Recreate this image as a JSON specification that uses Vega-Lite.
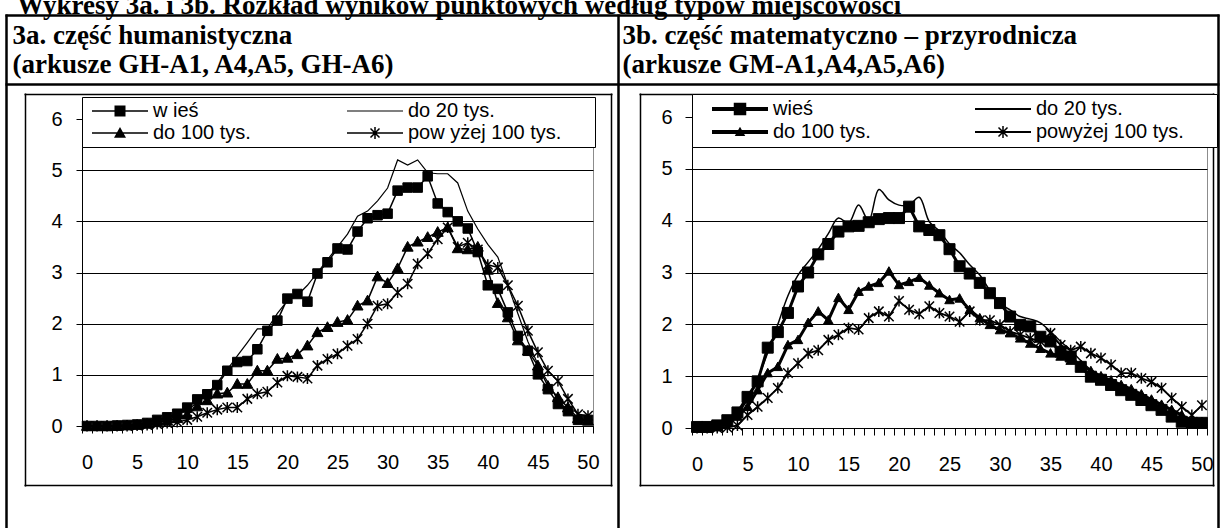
{
  "$schema": "https://vega.github.io/schema/vega-lite/v6.json",
  "width": 1223,
  "height": 528,
  "autosize": {"type": "none"},
  "padding": 0,
  "background": "white",
  "title": {
    "text": "Wykresy 3a. i 3b. Rozkład wyników punktowych według typów miejscowości",
    "anchor": "start",
    "frame": "group",
    "orient": "top",
    "offset": -20,
    "dx": 17,
    "baseline": "top",
    "font": "Liberation Serif",
    "fontSize": 27,
    "fontWeight": "bold",
    "color": "black"
  },
  "datasets": {
    "wyniki_3a": [
      {"typ":"wieś","punkty":0,"odsetek":0},{"typ":"wieś","punkty":1,"odsetek":0},{"typ":"wieś","punkty":2,"odsetek":0},{"typ":"wieś","punkty":3,"odsetek":0.01},{"typ":"wieś","punkty":4,"odsetek":0.02},{"typ":"wieś","punkty":5,"odsetek":0.03},{"typ":"wieś","punkty":6,"odsetek":0.06},{"typ":"wieś","punkty":7,"odsetek":0.12},{"typ":"wieś","punkty":8,"odsetek":0.17},{"typ":"wieś","punkty":9,"odsetek":0.24},{"typ":"wieś","punkty":10,"odsetek":0.36},{"typ":"wieś","punkty":11,"odsetek":0.52},{"typ":"wieś","punkty":12,"odsetek":0.62},{"typ":"wieś","punkty":13,"odsetek":0.8},{"typ":"wieś","punkty":14,"odsetek":1.08},{"typ":"wieś","punkty":15,"odsetek":1.25},{"typ":"wieś","punkty":16,"odsetek":1.27},{"typ":"wieś","punkty":17,"odsetek":1.5},{"typ":"wieś","punkty":18,"odsetek":1.86},{"typ":"wieś","punkty":19,"odsetek":2.06},{"typ":"wieś","punkty":20,"odsetek":2.49},{"typ":"wieś","punkty":21,"odsetek":2.58},{"typ":"wieś","punkty":22,"odsetek":2.43},{"typ":"wieś","punkty":23,"odsetek":2.98},{"typ":"wieś","punkty":24,"odsetek":3.2},{"typ":"wieś","punkty":25,"odsetek":3.47},{"typ":"wieś","punkty":26,"odsetek":3.45},{"typ":"wieś","punkty":27,"odsetek":3.8},{"typ":"wieś","punkty":28,"odsetek":4.06},{"typ":"wieś","punkty":29,"odsetek":4.12},{"typ":"wieś","punkty":30,"odsetek":4.15},{"typ":"wieś","punkty":31,"odsetek":4.6},{"typ":"wieś","punkty":32,"odsetek":4.66},{"typ":"wieś","punkty":33,"odsetek":4.66},{"typ":"wieś","punkty":34,"odsetek":4.88},{"typ":"wieś","punkty":35,"odsetek":4.35},{"typ":"wieś","punkty":36,"odsetek":4.18},{"typ":"wieś","punkty":37,"odsetek":4.0},{"typ":"wieś","punkty":38,"odsetek":3.86},{"typ":"wieś","punkty":39,"odsetek":3.4},{"typ":"wieś","punkty":40,"odsetek":2.75},{"typ":"wieś","punkty":41,"odsetek":2.68},{"typ":"wieś","punkty":42,"odsetek":2.22},{"typ":"wieś","punkty":43,"odsetek":1.76},{"typ":"wieś","punkty":44,"odsetek":1.47},{"typ":"wieś","punkty":45,"odsetek":1.01},{"typ":"wieś","punkty":46,"odsetek":0.72},{"typ":"wieś","punkty":47,"odsetek":0.43},{"typ":"wieś","punkty":48,"odsetek":0.29},{"typ":"wieś","punkty":49,"odsetek":0.12},{"typ":"wieś","punkty":50,"odsetek":0.12},
      {"typ":"do 20 tys.","punkty":0,"odsetek":0},{"typ":"do 20 tys.","punkty":1,"odsetek":0},{"typ":"do 20 tys.","punkty":2,"odsetek":0},{"typ":"do 20 tys.","punkty":3,"odsetek":0.01},{"typ":"do 20 tys.","punkty":4,"odsetek":0.02},{"typ":"do 20 tys.","punkty":5,"odsetek":0.04},{"typ":"do 20 tys.","punkty":6,"odsetek":0.07},{"typ":"do 20 tys.","punkty":7,"odsetek":0.11},{"typ":"do 20 tys.","punkty":8,"odsetek":0.16},{"typ":"do 20 tys.","punkty":9,"odsetek":0.22},{"typ":"do 20 tys.","punkty":10,"odsetek":0.32},{"typ":"do 20 tys.","punkty":11,"odsetek":0.45},{"typ":"do 20 tys.","punkty":12,"odsetek":0.62},{"typ":"do 20 tys.","punkty":13,"odsetek":0.85},{"typ":"do 20 tys.","punkty":14,"odsetek":1.1},{"typ":"do 20 tys.","punkty":15,"odsetek":1.37},{"typ":"do 20 tys.","punkty":16,"odsetek":1.63},{"typ":"do 20 tys.","punkty":17,"odsetek":1.9},{"typ":"do 20 tys.","punkty":18,"odsetek":1.9},{"typ":"do 20 tys.","punkty":19,"odsetek":2.2},{"typ":"do 20 tys.","punkty":20,"odsetek":2.45},{"typ":"do 20 tys.","punkty":21,"odsetek":2.55},{"typ":"do 20 tys.","punkty":22,"odsetek":2.75},{"typ":"do 20 tys.","punkty":23,"odsetek":3.0},{"typ":"do 20 tys.","punkty":24,"odsetek":3.25},{"typ":"do 20 tys.","punkty":25,"odsetek":3.5},{"typ":"do 20 tys.","punkty":26,"odsetek":3.75},{"typ":"do 20 tys.","punkty":27,"odsetek":4.1},{"typ":"do 20 tys.","punkty":28,"odsetek":4.2},{"typ":"do 20 tys.","punkty":29,"odsetek":4.4},{"typ":"do 20 tys.","punkty":30,"odsetek":4.65},{"typ":"do 20 tys.","punkty":31,"odsetek":5.2},{"typ":"do 20 tys.","punkty":32,"odsetek":5.1},{"typ":"do 20 tys.","punkty":33,"odsetek":5.2},{"typ":"do 20 tys.","punkty":34,"odsetek":4.95},{"typ":"do 20 tys.","punkty":35,"odsetek":4.93},{"typ":"do 20 tys.","punkty":36,"odsetek":4.93},{"typ":"do 20 tys.","punkty":37,"odsetek":4.75},{"typ":"do 20 tys.","punkty":38,"odsetek":4.2},{"typ":"do 20 tys.","punkty":39,"odsetek":3.85},{"typ":"do 20 tys.","punkty":40,"odsetek":3.55},{"typ":"do 20 tys.","punkty":41,"odsetek":3.3},{"typ":"do 20 tys.","punkty":42,"odsetek":2.75},{"typ":"do 20 tys.","punkty":43,"odsetek":2.2},{"typ":"do 20 tys.","punkty":44,"odsetek":1.65},{"typ":"do 20 tys.","punkty":45,"odsetek":1.2},{"typ":"do 20 tys.","punkty":46,"odsetek":0.85},{"typ":"do 20 tys.","punkty":47,"odsetek":0.5},{"typ":"do 20 tys.","punkty":48,"odsetek":0.3},{"typ":"do 20 tys.","punkty":49,"odsetek":0.12},{"typ":"do 20 tys.","punkty":50,"odsetek":0.1},
      {"typ":"do 100 tys.","punkty":0,"odsetek":0},{"typ":"do 100 tys.","punkty":1,"odsetek":0},{"typ":"do 100 tys.","punkty":2,"odsetek":0},{"typ":"do 100 tys.","punkty":3,"odsetek":0},{"typ":"do 100 tys.","punkty":4,"odsetek":0.01},{"typ":"do 100 tys.","punkty":5,"odsetek":0.02},{"typ":"do 100 tys.","punkty":6,"odsetek":0.04},{"typ":"do 100 tys.","punkty":7,"odsetek":0.07},{"typ":"do 100 tys.","punkty":8,"odsetek":0.1},{"typ":"do 100 tys.","punkty":9,"odsetek":0.15},{"typ":"do 100 tys.","punkty":10,"odsetek":0.22},{"typ":"do 100 tys.","punkty":11,"odsetek":0.38},{"typ":"do 100 tys.","punkty":12,"odsetek":0.5},{"typ":"do 100 tys.","punkty":13,"odsetek":0.63},{"typ":"do 100 tys.","punkty":14,"odsetek":0.65},{"typ":"do 100 tys.","punkty":15,"odsetek":0.82},{"typ":"do 100 tys.","punkty":16,"odsetek":0.82},{"typ":"do 100 tys.","punkty":17,"odsetek":1.08},{"typ":"do 100 tys.","punkty":18,"odsetek":1.08},{"typ":"do 100 tys.","punkty":19,"odsetek":1.31},{"typ":"do 100 tys.","punkty":20,"odsetek":1.33},{"typ":"do 100 tys.","punkty":21,"odsetek":1.4},{"typ":"do 100 tys.","punkty":22,"odsetek":1.57},{"typ":"do 100 tys.","punkty":23,"odsetek":1.83},{"typ":"do 100 tys.","punkty":24,"odsetek":1.93},{"typ":"do 100 tys.","punkty":25,"odsetek":2.03},{"typ":"do 100 tys.","punkty":26,"odsetek":2.07},{"typ":"do 100 tys.","punkty":27,"odsetek":2.35},{"typ":"do 100 tys.","punkty":28,"odsetek":2.45},{"typ":"do 100 tys.","punkty":29,"odsetek":2.92},{"typ":"do 100 tys.","punkty":30,"odsetek":2.79},{"typ":"do 100 tys.","punkty":31,"odsetek":3.08},{"typ":"do 100 tys.","punkty":32,"odsetek":3.5},{"typ":"do 100 tys.","punkty":33,"odsetek":3.6},{"typ":"do 100 tys.","punkty":34,"odsetek":3.69},{"typ":"do 100 tys.","punkty":35,"odsetek":3.79},{"typ":"do 100 tys.","punkty":36,"odsetek":3.88},{"typ":"do 100 tys.","punkty":37,"odsetek":3.47},{"typ":"do 100 tys.","punkty":38,"odsetek":3.45},{"typ":"do 100 tys.","punkty":39,"odsetek":3.5},{"typ":"do 100 tys.","punkty":40,"odsetek":3.05},{"typ":"do 100 tys.","punkty":41,"odsetek":2.4},{"typ":"do 100 tys.","punkty":42,"odsetek":2.12},{"typ":"do 100 tys.","punkty":43,"odsetek":1.67},{"typ":"do 100 tys.","punkty":44,"odsetek":1.47},{"typ":"do 100 tys.","punkty":45,"odsetek":1.18},{"typ":"do 100 tys.","punkty":46,"odsetek":0.78},{"typ":"do 100 tys.","punkty":47,"odsetek":0.56},{"typ":"do 100 tys.","punkty":48,"odsetek":0.36},{"typ":"do 100 tys.","punkty":49,"odsetek":0.15},{"typ":"do 100 tys.","punkty":50,"odsetek":0.1},
      {"typ":"powyżej 100 tys.","punkty":0,"odsetek":0},{"typ":"powyżej 100 tys.","punkty":1,"odsetek":0},{"typ":"powyżej 100 tys.","punkty":2,"odsetek":0},{"typ":"powyżej 100 tys.","punkty":3,"odsetek":0},{"typ":"powyżej 100 tys.","punkty":4,"odsetek":0},{"typ":"powyżej 100 tys.","punkty":5,"odsetek":0.01},{"typ":"powyżej 100 tys.","punkty":6,"odsetek":0.02},{"typ":"powyżej 100 tys.","punkty":7,"odsetek":0.04},{"typ":"powyżej 100 tys.","punkty":8,"odsetek":0.06},{"typ":"powyżej 100 tys.","punkty":9,"odsetek":0.08},{"typ":"powyżej 100 tys.","punkty":10,"odsetek":0.12},{"typ":"powyżej 100 tys.","punkty":11,"odsetek":0.18},{"typ":"powyżej 100 tys.","punkty":12,"odsetek":0.26},{"typ":"powyżej 100 tys.","punkty":13,"odsetek":0.32},{"typ":"powyżej 100 tys.","punkty":14,"odsetek":0.36},{"typ":"powyżej 100 tys.","punkty":15,"odsetek":0.36},{"typ":"powyżej 100 tys.","punkty":16,"odsetek":0.53},{"typ":"powyżej 100 tys.","punkty":17,"odsetek":0.63},{"typ":"powyżej 100 tys.","punkty":18,"odsetek":0.67},{"typ":"powyżej 100 tys.","punkty":19,"odsetek":0.85},{"typ":"powyżej 100 tys.","punkty":20,"odsetek":0.98},{"typ":"powyżej 100 tys.","punkty":21,"odsetek":0.96},{"typ":"powyżej 100 tys.","punkty":22,"odsetek":0.93},{"typ":"powyżej 100 tys.","punkty":23,"odsetek":1.18},{"typ":"powyżej 100 tys.","punkty":24,"odsetek":1.31},{"typ":"powyżej 100 tys.","punkty":25,"odsetek":1.41},{"typ":"powyżej 100 tys.","punkty":26,"odsetek":1.57},{"typ":"powyżej 100 tys.","punkty":27,"odsetek":1.7},{"typ":"powyżej 100 tys.","punkty":28,"odsetek":2.0},{"typ":"powyżej 100 tys.","punkty":29,"odsetek":2.35},{"typ":"powyżej 100 tys.","punkty":30,"odsetek":2.39},{"typ":"powyżej 100 tys.","punkty":31,"odsetek":2.61},{"typ":"powyżej 100 tys.","punkty":32,"odsetek":2.78},{"typ":"powyżej 100 tys.","punkty":33,"odsetek":3.17},{"typ":"powyżej 100 tys.","punkty":34,"odsetek":3.37},{"typ":"powyżej 100 tys.","punkty":35,"odsetek":3.65},{"typ":"powyżej 100 tys.","punkty":36,"odsetek":3.88},{"typ":"powyżej 100 tys.","punkty":37,"odsetek":3.5},{"typ":"powyżej 100 tys.","punkty":38,"odsetek":3.58},{"typ":"powyżej 100 tys.","punkty":39,"odsetek":3.45},{"typ":"powyżej 100 tys.","punkty":40,"odsetek":3.15},{"typ":"powyżej 100 tys.","punkty":41,"odsetek":3.1},{"typ":"powyżej 100 tys.","punkty":42,"odsetek":2.75},{"typ":"powyżej 100 tys.","punkty":43,"odsetek":2.35},{"typ":"powyżej 100 tys.","punkty":44,"odsetek":1.86},{"typ":"powyżej 100 tys.","punkty":45,"odsetek":1.44},{"typ":"powyżej 100 tys.","punkty":46,"odsetek":1.08},{"typ":"powyżej 100 tys.","punkty":47,"odsetek":0.88},{"typ":"powyżej 100 tys.","punkty":48,"odsetek":0.53},{"typ":"powyżej 100 tys.","punkty":49,"odsetek":0.23},{"typ":"powyżej 100 tys.","punkty":50,"odsetek":0.2}
    ],
    "wyniki_3b": [
      {"typ":"wieś","punkty":0,"odsetek":0.02},{"typ":"wieś","punkty":1,"odsetek":0.02},{"typ":"wieś","punkty":2,"odsetek":0.05},{"typ":"wieś","punkty":3,"odsetek":0.15},{"typ":"wieś","punkty":4,"odsetek":0.3},{"typ":"wieś","punkty":5,"odsetek":0.6},{"typ":"wieś","punkty":6,"odsetek":0.9},{"typ":"wieś","punkty":7,"odsetek":1.55},{"typ":"wieś","punkty":8,"odsetek":1.85},{"typ":"wieś","punkty":9,"odsetek":2.22},{"typ":"wieś","punkty":10,"odsetek":2.73},{"typ":"wieś","punkty":11,"odsetek":3.0},{"typ":"wieś","punkty":12,"odsetek":3.35},{"typ":"wieś","punkty":13,"odsetek":3.55},{"typ":"wieś","punkty":14,"odsetek":3.79},{"typ":"wieś","punkty":15,"odsetek":3.89},{"typ":"wieś","punkty":16,"odsetek":3.9},{"typ":"wieś","punkty":17,"odsetek":3.97},{"typ":"wieś","punkty":18,"odsetek":4.03},{"typ":"wieś","punkty":19,"odsetek":4.05},{"typ":"wieś","punkty":20,"odsetek":4.05},{"typ":"wieś","punkty":21,"odsetek":4.27},{"typ":"wieś","punkty":22,"odsetek":3.89},{"typ":"wieś","punkty":23,"odsetek":3.82},{"typ":"wieś","punkty":24,"odsetek":3.72},{"typ":"wieś","punkty":25,"odsetek":3.45},{"typ":"wieś","punkty":26,"odsetek":3.12},{"typ":"wieś","punkty":27,"odsetek":2.98},{"typ":"wieś","punkty":28,"odsetek":2.8},{"typ":"wieś","punkty":29,"odsetek":2.6},{"typ":"wieś","punkty":30,"odsetek":2.41},{"typ":"wieś","punkty":31,"odsetek":2.15},{"typ":"wieś","punkty":32,"odsetek":1.99},{"typ":"wieś","punkty":33,"odsetek":1.96},{"typ":"wieś","punkty":34,"odsetek":1.76},{"typ":"wieś","punkty":35,"odsetek":1.67},{"typ":"wieś","punkty":36,"odsetek":1.47},{"typ":"wieś","punkty":37,"odsetek":1.38},{"typ":"wieś","punkty":38,"odsetek":1.18},{"typ":"wieś","punkty":39,"odsetek":0.99},{"typ":"wieś","punkty":40,"odsetek":0.93},{"typ":"wieś","punkty":41,"odsetek":0.83},{"typ":"wieś","punkty":42,"odsetek":0.73},{"typ":"wieś","punkty":43,"odsetek":0.64},{"typ":"wieś","punkty":44,"odsetek":0.54},{"typ":"wieś","punkty":45,"odsetek":0.44},{"typ":"wieś","punkty":46,"odsetek":0.35},{"typ":"wieś","punkty":47,"odsetek":0.22},{"typ":"wieś","punkty":48,"odsetek":0.12},{"typ":"wieś","punkty":49,"odsetek":0.1},{"typ":"wieś","punkty":50,"odsetek":0.1},
      {"typ":"do 20 tys.","punkty":0,"odsetek":0},{"typ":"do 20 tys.","punkty":1,"odsetek":0.02},{"typ":"do 20 tys.","punkty":2,"odsetek":0.05},{"typ":"do 20 tys.","punkty":3,"odsetek":0.12},{"typ":"do 20 tys.","punkty":4,"odsetek":0.28},{"typ":"do 20 tys.","punkty":5,"odsetek":0.55},{"typ":"do 20 tys.","punkty":6,"odsetek":0.95},{"typ":"do 20 tys.","punkty":7,"odsetek":1.45},{"typ":"do 20 tys.","punkty":8,"odsetek":2.0},{"typ":"do 20 tys.","punkty":9,"odsetek":2.55},{"typ":"do 20 tys.","punkty":10,"odsetek":2.95},{"typ":"do 20 tys.","punkty":11,"odsetek":3.2},{"typ":"do 20 tys.","punkty":12,"odsetek":3.45},{"typ":"do 20 tys.","punkty":13,"odsetek":3.75},{"typ":"do 20 tys.","punkty":14,"odsetek":4.05},{"typ":"do 20 tys.","punkty":15,"odsetek":3.95},{"typ":"do 20 tys.","punkty":16,"odsetek":4.3},{"typ":"do 20 tys.","punkty":17,"odsetek":4.0},{"typ":"do 20 tys.","punkty":18,"odsetek":4.6},{"typ":"do 20 tys.","punkty":19,"odsetek":4.4},{"typ":"do 20 tys.","punkty":20,"odsetek":4.3},{"typ":"do 20 tys.","punkty":21,"odsetek":4.3},{"typ":"do 20 tys.","punkty":22,"odsetek":4.45},{"typ":"do 20 tys.","punkty":23,"odsetek":3.98},{"typ":"do 20 tys.","punkty":24,"odsetek":3.8},{"typ":"do 20 tys.","punkty":25,"odsetek":3.55},{"typ":"do 20 tys.","punkty":26,"odsetek":3.38},{"typ":"do 20 tys.","punkty":27,"odsetek":3.15},{"typ":"do 20 tys.","punkty":28,"odsetek":2.95},{"typ":"do 20 tys.","punkty":29,"odsetek":2.65},{"typ":"do 20 tys.","punkty":30,"odsetek":2.4},{"typ":"do 20 tys.","punkty":31,"odsetek":2.28},{"typ":"do 20 tys.","punkty":32,"odsetek":2.15},{"typ":"do 20 tys.","punkty":33,"odsetek":2.1},{"typ":"do 20 tys.","punkty":34,"odsetek":2.03},{"typ":"do 20 tys.","punkty":35,"odsetek":1.86},{"typ":"do 20 tys.","punkty":36,"odsetek":1.67},{"typ":"do 20 tys.","punkty":37,"odsetek":1.5},{"typ":"do 20 tys.","punkty":38,"odsetek":1.3},{"typ":"do 20 tys.","punkty":39,"odsetek":1.12},{"typ":"do 20 tys.","punkty":40,"odsetek":1.0},{"typ":"do 20 tys.","punkty":41,"odsetek":0.9},{"typ":"do 20 tys.","punkty":42,"odsetek":0.8},{"typ":"do 20 tys.","punkty":43,"odsetek":0.7},{"typ":"do 20 tys.","punkty":44,"odsetek":0.6},{"typ":"do 20 tys.","punkty":45,"odsetek":0.5},{"typ":"do 20 tys.","punkty":46,"odsetek":0.38},{"typ":"do 20 tys.","punkty":47,"odsetek":0.25},{"typ":"do 20 tys.","punkty":48,"odsetek":0.15},{"typ":"do 20 tys.","punkty":49,"odsetek":0.1},{"typ":"do 20 tys.","punkty":50,"odsetek":0.1},
      {"typ":"do 100 tys.","punkty":0,"odsetek":0},{"typ":"do 100 tys.","punkty":1,"odsetek":0.01},{"typ":"do 100 tys.","punkty":2,"odsetek":0.03},{"typ":"do 100 tys.","punkty":3,"odsetek":0.1},{"typ":"do 100 tys.","punkty":4,"odsetek":0.22},{"typ":"do 100 tys.","punkty":5,"odsetek":0.41},{"typ":"do 100 tys.","punkty":6,"odsetek":0.73},{"typ":"do 100 tys.","punkty":7,"odsetek":1.06},{"typ":"do 100 tys.","punkty":8,"odsetek":1.18},{"typ":"do 100 tys.","punkty":9,"odsetek":1.6},{"typ":"do 100 tys.","punkty":10,"odsetek":1.7},{"typ":"do 100 tys.","punkty":11,"odsetek":2.03},{"typ":"do 100 tys.","punkty":12,"odsetek":2.25},{"typ":"do 100 tys.","punkty":13,"odsetek":2.08},{"typ":"do 100 tys.","punkty":14,"odsetek":2.51},{"typ":"do 100 tys.","punkty":15,"odsetek":2.28},{"typ":"do 100 tys.","punkty":16,"odsetek":2.63},{"typ":"do 100 tys.","punkty":17,"odsetek":2.73},{"typ":"do 100 tys.","punkty":18,"odsetek":2.8},{"typ":"do 100 tys.","punkty":19,"odsetek":3.02},{"typ":"do 100 tys.","punkty":20,"odsetek":2.76},{"typ":"do 100 tys.","punkty":21,"odsetek":2.82},{"typ":"do 100 tys.","punkty":22,"odsetek":2.9},{"typ":"do 100 tys.","punkty":23,"odsetek":2.75},{"typ":"do 100 tys.","punkty":24,"odsetek":2.6},{"typ":"do 100 tys.","punkty":25,"odsetek":2.47},{"typ":"do 100 tys.","punkty":26,"odsetek":2.5},{"typ":"do 100 tys.","punkty":27,"odsetek":2.28},{"typ":"do 100 tys.","punkty":28,"odsetek":2.12},{"typ":"do 100 tys.","punkty":29,"odsetek":1.99},{"typ":"do 100 tys.","punkty":30,"odsetek":1.89},{"typ":"do 100 tys.","punkty":31,"odsetek":1.83},{"typ":"do 100 tys.","punkty":32,"odsetek":1.73},{"typ":"do 100 tys.","punkty":33,"odsetek":1.63},{"typ":"do 100 tys.","punkty":34,"odsetek":1.53},{"typ":"do 100 tys.","punkty":35,"odsetek":1.44},{"typ":"do 100 tys.","punkty":36,"odsetek":1.38},{"typ":"do 100 tys.","punkty":37,"odsetek":1.3},{"typ":"do 100 tys.","punkty":38,"odsetek":1.22},{"typ":"do 100 tys.","punkty":39,"odsetek":1.1},{"typ":"do 100 tys.","punkty":40,"odsetek":1.0},{"typ":"do 100 tys.","punkty":41,"odsetek":0.92},{"typ":"do 100 tys.","punkty":42,"odsetek":0.83},{"typ":"do 100 tys.","punkty":43,"odsetek":0.75},{"typ":"do 100 tys.","punkty":44,"odsetek":0.65},{"typ":"do 100 tys.","punkty":45,"odsetek":0.55},{"typ":"do 100 tys.","punkty":46,"odsetek":0.45},{"typ":"do 100 tys.","punkty":47,"odsetek":0.35},{"typ":"do 100 tys.","punkty":48,"odsetek":0.25},{"typ":"do 100 tys.","punkty":49,"odsetek":0.12},{"typ":"do 100 tys.","punkty":50,"odsetek":0.12},
      {"typ":"powyżej 100 tys.","punkty":0,"odsetek":0},{"typ":"powyżej 100 tys.","punkty":1,"odsetek":0},{"typ":"powyżej 100 tys.","punkty":2,"odsetek":0},{"typ":"powyżej 100 tys.","punkty":3,"odsetek":0.01},{"typ":"powyżej 100 tys.","punkty":4,"odsetek":0.05},{"typ":"powyżej 100 tys.","punkty":5,"odsetek":0.25},{"typ":"powyżej 100 tys.","punkty":6,"odsetek":0.41},{"typ":"powyżej 100 tys.","punkty":7,"odsetek":0.58},{"typ":"powyżej 100 tys.","punkty":8,"odsetek":0.77},{"typ":"powyżej 100 tys.","punkty":9,"odsetek":1.06},{"typ":"powyżej 100 tys.","punkty":10,"odsetek":1.25},{"typ":"powyżej 100 tys.","punkty":11,"odsetek":1.44},{"typ":"powyżej 100 tys.","punkty":12,"odsetek":1.5},{"typ":"powyżej 100 tys.","punkty":13,"odsetek":1.7},{"typ":"powyżej 100 tys.","punkty":14,"odsetek":1.8},{"typ":"powyżej 100 tys.","punkty":15,"odsetek":1.93},{"typ":"powyżej 100 tys.","punkty":16,"odsetek":1.9},{"typ":"powyżej 100 tys.","punkty":17,"odsetek":2.12},{"typ":"powyżej 100 tys.","punkty":18,"odsetek":2.25},{"typ":"powyżej 100 tys.","punkty":19,"odsetek":2.15},{"typ":"powyżej 100 tys.","punkty":20,"odsetek":2.45},{"typ":"powyżej 100 tys.","punkty":21,"odsetek":2.28},{"typ":"powyżej 100 tys.","punkty":22,"odsetek":2.2},{"typ":"powyżej 100 tys.","punkty":23,"odsetek":2.35},{"typ":"powyżej 100 tys.","punkty":24,"odsetek":2.22},{"typ":"powyżej 100 tys.","punkty":25,"odsetek":2.15},{"typ":"powyżej 100 tys.","punkty":26,"odsetek":2.05},{"typ":"powyżej 100 tys.","punkty":27,"odsetek":2.25},{"typ":"powyżej 100 tys.","punkty":28,"odsetek":2.08},{"typ":"powyżej 100 tys.","punkty":29,"odsetek":2.08},{"typ":"powyżej 100 tys.","punkty":30,"odsetek":1.99},{"typ":"powyżej 100 tys.","punkty":31,"odsetek":1.86},{"typ":"powyżej 100 tys.","punkty":32,"odsetek":1.8},{"typ":"powyżej 100 tys.","punkty":33,"odsetek":1.73},{"typ":"powyżej 100 tys.","punkty":34,"odsetek":1.67},{"typ":"powyżej 100 tys.","punkty":35,"odsetek":1.83},{"typ":"powyżej 100 tys.","punkty":36,"odsetek":1.6},{"typ":"powyżej 100 tys.","punkty":37,"odsetek":1.5},{"typ":"powyżej 100 tys.","punkty":38,"odsetek":1.57},{"typ":"powyżej 100 tys.","punkty":39,"odsetek":1.44},{"typ":"powyżej 100 tys.","punkty":40,"odsetek":1.35},{"typ":"powyżej 100 tys.","punkty":41,"odsetek":1.22},{"typ":"powyżej 100 tys.","punkty":42,"odsetek":1.06},{"typ":"powyżej 100 tys.","punkty":43,"odsetek":1.06},{"typ":"powyżej 100 tys.","punkty":44,"odsetek":0.96},{"typ":"powyżej 100 tys.","punkty":45,"odsetek":0.89},{"typ":"powyżej 100 tys.","punkty":46,"odsetek":0.77},{"typ":"powyżej 100 tys.","punkty":47,"odsetek":0.58},{"typ":"powyżej 100 tys.","punkty":48,"odsetek":0.41},{"typ":"powyżej 100 tys.","punkty":49,"odsetek":0.25},{"typ":"powyżej 100 tys.","punkty":50,"odsetek":0.44}
    ]
  },
  "layer": [
    {
      "layer": [
        {
          "data": {"name": "wyniki_3a"},
          "transform": [{"filter": "datum.typ !== 'do 20 tys.'"}],
          "mark": {"type": "line", "color": "black", "strokeWidth": 1.5},
          "encoding": {
            "x": {"field": "punkty", "type": "quantitative",
              "scale": {"domain": [-0.5, 50.5], "range": [82, 593], "nice": false, "zero": false},
              "axis": {"orient": "top", "values": [50.5], "grid": true, "gridColor": "#8c8c8c", "gridWidth": 1, "domain": false, "ticks": false, "labels": false, "title": null}},
            "y": {"field": "odsetek", "type": "quantitative",
              "scale": {"domain": [0, 6], "range": [426, 119], "nice": false, "zero": false},
              "axis": {"orient": "left", "offset": -82, "values": [0, 1, 2, 3, 4, 5, 6], "grid": true, "gridColor": "black", "gridWidth": 1,
                "domain": true, "domainColor": "black", "domainWidth": 1, "ticks": true, "tickColor": "black", "tickSize": 6, "tickWidth": 1,
                "labelFont": "Liberation Sans", "labelFontSize": 20, "labelColor": "black", "labelPadding": 14, "labelFlush": false, "labelOverlap": false,
                "title": ["3a. część humanistyczna", "(arkusze GH-A1, A4,A5, GH-A6)"], "titleX": -70, "titleY": 43, "titleAngle": 0, "titleAlign": "left", "titleBaseline": "alphabetic",
                "titleFont": "Liberation Serif", "titleFontSize": 27, "titleFontWeight": "bold", "titleColor": "black", "titleLineHeight": 29, "titleLimit": 1000}},
            "detail": {"field": "typ", "type": "nominal"}
          }
        },
        {
          "data": {"name": "wyniki_3a"},
          "transform": [{"filter": "datum.typ === 'do 20 tys.'"}],
          "mark": {"type": "line", "color": "black", "strokeWidth": 1.2},
          "encoding": {
            "x": {"field": "punkty", "type": "quantitative",
              "scale": {"domain": [-6.28865, 52.39628], "range": [24, 612], "nice": false, "zero": false},
              "axis": {"orient": "top", "values": [-6.18885, 52.29648], "grid": true, "gridColor": "black", "gridWidth": 1.5, "domain": false, "ticks": false, "labels": false, "title": null}},
            "y": {"field": "odsetek", "type": "quantitative",
              "scale": {"domain": [-1.17264, 6.50814], "range": [486, 93], "nice": false, "zero": false},
              "axis": {"orient": "left", "values": [-1.15309, 6.4886], "grid": true, "gridColor": "black", "gridWidth": 1.5, "domain": false, "ticks": false, "labels": false, "title": null}}
          }
        },
        {
          "data": {"name": "wyniki_3a"},
          "transform": [{"filter": "datum.typ === 'wieś' || datum.typ === 'do 100 tys.'"}],
          "mark": {"type": "point", "filled": true, "fill": "black", "stroke": "black", "strokeWidth": 1, "size": 100, "opacity": 1},
          "encoding": {
            "x": {"field": "punkty", "type": "quantitative",
              "scale": {"domain": [-0.5, 50.5], "range": [82, 593], "nice": false, "zero": false},
              "axis": {"orient": "bottom", "offset": -102,
                "values": [-0.5,0.5,1.5,2.5,3.5,4.5,5.5,6.5,7.5,8.5,9.5,10.5,11.5,12.5,13.5,14.5,15.5,16.5,17.5,18.5,19.5,20.5,21.5,22.5,23.5,24.5,25.5,26.5,27.5,28.5,29.5,30.5,31.5,32.5,33.5,34.5,35.5,36.5,37.5,38.5,39.5,40.5,41.5,42.5,43.5,44.5,45.5,46.5,47.5,48.5,49.5,50.5],
                "grid": false, "domain": true, "domainColor": "black", "domainWidth": 1, "ticks": true, "tickColor": "black", "tickSize": 7, "tickWidth": 1,
                "labelExpr": "(datum.value + 0.5) % 5 === 0 ? '' + (datum.value + 0.5) : ''", "labelOffset": 5, "labelPadding": 19,
                "labelFont": "Liberation Sans", "labelFontSize": 20, "labelColor": "black", "labelFlush": false, "labelOverlap": false, "labelBound": false, "title": null}},
            "y": {"field": "odsetek", "type": "quantitative",
              "scale": {"domain": [0, 6], "range": [426, 119], "nice": false, "zero": false}, "axis": null},
            "shape": {"condition": {"test": "datum.typ === 'wieś'", "value": "M-0.95,-0.95H0.95V0.95H-0.95Z"}, "value": "M0,-1.1L1.1,0.85L-1.1,0.85Z"}
          }
        },
        {
          "data": {"name": "wyniki_3a"},
          "transform": [{"filter": "datum.typ === 'powyżej 100 tys.'"}],
          "mark": {"type": "point", "filled": false, "shape": "M-0.95,-0.95L0.95,0.95M-0.95,0.95L0.95,-0.95M0,-1.1V1.1", "stroke": "black", "strokeWidth": 1.5, "size": 100, "opacity": 1},
          "encoding": {
            "x": {"field": "punkty", "type": "quantitative",
              "scale": {"domain": [-8.18493, 112.9775], "range": [5, 1219], "nice": false, "zero": false},
              "axis": {"orient": "top", "values": [-8.08513, 53.04501, 112.87769], "grid": true, "gridColor": "black", "gridWidth": 2.5, "domain": false, "ticks": false, "labels": false, "title": null}},
            "y": {"field": "odsetek", "type": "quantitative",
              "scale": {"domain": [-2.22801, 8.05212], "range": [540, 14], "nice": false, "zero": false},
              "axis": {"orient": "left", "values": [8.03257, 6.68404], "grid": true, "gridColor": "black", "gridWidth": 2.5, "domain": false, "ticks": false, "labels": false, "title": null}}
          }
        },
        {
          "description": "Legend key for the four settlement types (line with its marker).",
          "data": {"name": "wyniki_3a"},
          "transform": [{"filter": "false"}],
          "mark": {"type": "point", "filled": true, "fill": "black", "size": 100, "opacity": 1},
          "encoding": {
            "shape": {"field": "typ", "type": "nominal",
              "scale": {"domain": ["wieś", "do 100 tys.", "do 20 tys.", "powyżej 100 tys."],
                "range": [
                  "M-5.6,-0.15H5.6V0.15H-5.6ZM-1.1,-1.1H1.1V1.1H-1.1Z",
                  "M-5.6,-0.15H5.6V0.15H-5.6ZM0,-1.2L1.2,0.95L-1.2,0.95Z",
                  "M-5.6,-0.12H5.6V0.12H-5.6Z",
                  "M-5.6,-0.15H5.6V0.15H-5.6ZM-0.794,-1.006L1.006,0.794L0.794,1.006L-1.006,-0.794ZM-1.006,0.794L0.794,-1.006L1.006,-0.794L-0.794,1.006ZM-0.15,-1.2H0.15V1.2H-0.15ZM42.6,0"]},
              "legend": {"orient": "none", "legendX": 82, "legendY": 97, "columns": 2, "columnPadding": 90, "rowPadding": 2, "padding": 4,
                "strokeColor": "black", "fillColor": "white", "title": null, "symbolSize": 100, "symbolStrokeWidth": 1.5, "symbolFillColor": "black", "symbolOpacity": 1,
                "symbolOffset": 24, "labelOffset": 23,
                "labelFont": "Liberation Sans", "labelFontSize": 20, "labelColor": "black", "labelLimit": 400,
                "labelExpr": "datum.label === 'wieś' ? 'w ieś' : datum.label === 'do 100 tys.' ? '\u00a0do 100 tys.' : datum.label === 'powyżej 100 tys.' ? '\u00a0pow yżej 100 tys.' : datum.label"}}
          }
        }
      ],
      "resolve": {"scale": {"x": "independent", "y": "independent"}}
    },
    {
      "layer": [
        {
          "data": {"name": "wyniki_3b"},
          "transform": [{"filter": "datum.typ !== 'do 20 tys.'"}],
          "mark": {"type": "line", "color": "black"},
          "encoding": {
            "x": {"field": "punkty", "type": "quantitative",
              "scale": {"domain": [-0.5, 50.5], "range": [692, 1207], "nice": false, "zero": false},
              "axis": {"orient": "top", "values": [50.5], "grid": true, "gridColor": "#8c8c8c", "gridWidth": 1, "domain": false, "ticks": false, "labels": false, "title": null}},
            "y": {"field": "odsetek", "type": "quantitative",
              "scale": {"domain": [0, 6], "range": [428, 117], "nice": false, "zero": false},
              "axis": {"orient": "left", "offset": -692, "values": [0, 1, 2, 3, 4, 5, 6], "grid": true, "gridColor": "black", "gridWidth": 1,
                "domain": true, "domainColor": "black", "domainWidth": 1, "ticks": true, "tickColor": "black", "tickSize": 7, "tickWidth": 1,
                "labelFont": "Liberation Sans", "labelFontSize": 20, "labelColor": "black", "labelPadding": 13, "labelFlush": false, "labelOverlap": false,
                "title": ["3b. część matematyczno – przyrodnicza", "(arkusze GM-A1,A4,A5,A6)"], "titleX": -70, "titleY": 43, "titleAngle": 0, "titleAlign": "left", "titleBaseline": "alphabetic",
                "titleFont": "Liberation Serif", "titleFontSize": 27, "titleFontWeight": "bold", "titleColor": "black", "titleLineHeight": 29, "titleLimit": 1000}},
            "detail": {"field": "typ", "type": "nominal"},
            "strokeWidth": {"condition": {"test": "datum.typ === 'powyżej 100 tys.'", "value": 1.8}, "value": 3}
          }
        },
        {
          "data": {"name": "wyniki_3b"},
          "transform": [{"filter": "datum.typ === 'do 20 tys.'"}],
          "mark": {"type": "line", "color": "black", "strokeWidth": 1.5, "interpolate": "catmull-rom"},
          "encoding": {
            "x": {"field": "punkty", "type": "quantitative",
              "scale": {"domain": [-5.74854, 51.1932], "range": [639, 1214], "nice": false, "zero": false},
              "axis": {"orient": "top", "values": [-5.64951, 51.09417], "grid": true, "gridColor": "black", "gridWidth": 1.5, "domain": false, "ticks": false, "labels": false, "title": null}},
            "y": {"field": "odsetek", "type": "quantitative",
              "scale": {"domain": [-1.11897, 6.46302], "range": [486, 93], "nice": false, "zero": false},
              "axis": {"orient": "left", "values": [-1.09968, 6.44373], "grid": true, "gridColor": "black", "gridWidth": 1.5, "domain": false, "ticks": false, "labels": false, "title": null}}
          }
        },
        {
          "data": {"name": "wyniki_3b"},
          "transform": [{"filter": "datum.typ === 'wieś' || datum.typ === 'do 100 tys.'"}],
          "mark": {"type": "point", "filled": true, "fill": "black", "stroke": "black", "strokeWidth": 1, "size": 100, "opacity": 1},
          "encoding": {
            "x": {"field": "punkty", "type": "quantitative",
              "scale": {"domain": [-0.5, 50.5], "range": [692, 1207], "nice": false, "zero": false},
              "axis": {"orient": "bottom", "offset": -100,
                "values": [-0.5,0.5,1.5,2.5,3.5,4.5,5.5,6.5,7.5,8.5,9.5,10.5,11.5,12.5,13.5,14.5,15.5,16.5,17.5,18.5,19.5,20.5,21.5,22.5,23.5,24.5,25.5,26.5,27.5,28.5,29.5,30.5,31.5,32.5,33.5,34.5,35.5,36.5,37.5,38.5,39.5,40.5,41.5,42.5,43.5,44.5,45.5,46.5,47.5,48.5,49.5,50.5],
                "grid": false, "domain": true, "domainColor": "black", "domainWidth": 1, "ticks": true, "tickColor": "black", "tickSize": 7, "tickWidth": 1,
                "labelExpr": "(datum.value + 0.5) % 5 === 0 ? '' + (datum.value + 0.5) : ''", "labelOffset": 5, "labelPadding": 19,
                "labelFont": "Liberation Sans", "labelFontSize": 20, "labelColor": "black", "labelFlush": false, "labelOverlap": false, "labelBound": false, "title": null}},
            "y": {"field": "odsetek", "type": "quantitative",
              "scale": {"domain": [0, 6], "range": [428, 117], "nice": false, "zero": false}, "axis": null},
            "shape": {"condition": {"test": "datum.typ === 'wieś'", "value": "M-1.1,-1.1H1.1V1.1H-1.1Z"}, "value": "M0,-0.95L0.95,0.75L-0.95,0.75Z"}
          }
        },
        {
          "data": {"name": "wyniki_3b"},
          "transform": [{"filter": "datum.typ === 'powyżej 100 tys.'"}],
          "mark": {"type": "point", "filled": false, "shape": "M-0.95,-0.95L0.95,0.95M-0.95,0.95L0.95,-0.95M0,-1.1V1.1", "stroke": "black", "strokeWidth": 1.5, "size": 100, "opacity": 1},
          "encoding": {
            "x": {"field": "punkty", "type": "quantitative",
              "scale": {"domain": [-0.5, 50.5], "range": [692, 1207], "nice": false, "zero": false}, "axis": null},
            "y": {"field": "odsetek", "type": "quantitative",
              "scale": {"domain": [0, 6], "range": [428, 117], "nice": false, "zero": false}, "axis": null}
          }
        },
        {
          "description": "Legend key for the four settlement types (line with its marker).",
          "data": {"name": "wyniki_3b"},
          "transform": [{"filter": "false"}],
          "mark": {"type": "point", "filled": true, "fill": "black", "size": 100, "opacity": 1},
          "encoding": {
            "shape": {"field": "typ", "type": "nominal",
              "scale": {"domain": ["wieś", "do 100 tys.", "do 20 tys.", "powyżej 100 tys."],
                "range": [
                  "M-5.6,-0.4H5.6V0.4H-5.6ZM-1.25,-1.25H1.25V1.25H-1.25Z",
                  "M-5.6,-0.4H5.6V0.4H-5.6ZM0,-1.05L1.05,0.8L-1.05,0.8Z",
                  "M-5.6,-0.18H5.6V0.18H-5.6Z",
                  "M-5.6,-0.2H5.6V0.2H-5.6ZM-0.794,-1.006L1.006,0.794L0.794,1.006L-1.006,-0.794ZM-1.006,0.794L0.794,-1.006L1.006,-0.794L-0.794,1.006ZM-0.15,-1.2H0.15V1.2H-0.15ZM41.2,0"]},
              "legend": {"orient": "none", "legendX": 692, "legendY": 94, "columns": 2, "columnPadding": 89, "rowPadding": 3, "padding": 5,
                "strokeColor": "black", "fillColor": "white", "title": null, "symbolSize": 100, "symbolStrokeWidth": 1.5, "symbolFillColor": "black", "symbolOpacity": 1,
                "symbolOffset": 33, "labelOffset": 23,
                "labelFont": "Liberation Sans", "labelFontSize": 20, "labelColor": "black", "labelLimit": 400,
                "labelExpr": "datum.label === 'do 100 tys.' || datum.label === 'powyżej 100 tys.' ? '\u00a0' + datum.label : datum.label"}}
          }
        }
      ],
      "resolve": {"scale": {"x": "independent", "y": "independent"}}
    }
  ],
  "resolve": {"scale": {"x": "independent", "y": "independent", "shape": "independent"}, "legend": {"shape": "independent"}},
  "config": {
    "view": {"stroke": null},
    "font": "Liberation Sans"
  }
}
